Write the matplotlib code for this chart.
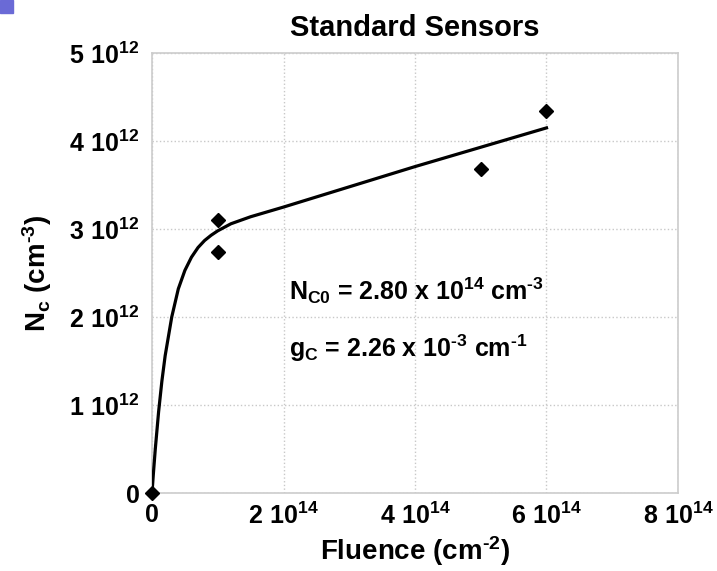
"""Standard Sensors: Nc versus fluence with fit curve"""
import matplotlib
matplotlib.use("Agg")
import matplotlib.pyplot as plt
from matplotlib.patches import Rectangle
from matplotlib.ticker import FixedLocator, FixedFormatter

plt.rcParams["font.family"] = ["Liberation Sans", "DejaVu Sans"]
plt.rcParams["font.weight"] = "bold"
plt.rcParams["mathtext.fontset"] = "custom"
plt.rcParams["mathtext.rm"] = "Liberation Sans:bold"
plt.rcParams["mathtext.it"] = "Liberation Sans:bold"
plt.rcParams["mathtext.bf"] = "Liberation Sans:bold"

# measured points (fluence in cm^-2, Nc in cm^-3)
fluence = [0, 1e14, 1e14, 5e14, 6e14]
nc = [0, 3.10e12, 2.74e12, 3.68e12, 4.34e12]

# fit curve
fit_fluence = [0, 0.02e14, 0.05e14, 0.1e14, 0.15e14, 0.2e14, 0.3e14, 0.4e14,
               0.5e14, 0.6e14, 0.7e14, 0.8e14, 0.9e14, 1.0e14, 1.2e14, 1.5e14,
               2.0e14, 3.0e14, 4.0e14, 5.0e14, 6.0e14]
fit_nc = [0, 0.21e12, 0.50e12, 0.92e12, 1.27e12, 1.56e12, 2.00e12, 2.32e12,
          2.53e12, 2.68e12, 2.79e12, 2.87e12, 2.93e12, 2.98e12, 3.06e12, 3.14e12,
          3.25e12, 3.48e12, 3.71e12, 3.93e12, 4.15e12]

x_ticks = [0, 2e14, 4e14, 6e14, 8e14]
x_labels = ["0", r"$2\ 10^{14}$", r"$4\ 10^{14}$", r"$6\ 10^{14}$", r"$8\ 10^{14}$"]
y_ticks = [0, 1e12, 2e12, 3e12, 4e12, 5e12]
y_labels = ["0", r"$1\ 10^{12}$", r"$2\ 10^{12}$", r"$3\ 10^{12}$", r"$4\ 10^{12}$", r"$5\ 10^{12}$"]

fig = plt.figure(figsize=(7.17, 5.71), dpi=100)
ax = fig.add_axes([0.212, 0.1366, 0.7336, 0.7704])

ax.plot(fit_fluence, fit_nc, "-", color="black", linewidth=2.3, zorder=3)
ax.plot(fluence, nc, "D", color="black", markersize=7, clip_on=False, zorder=4)

ax.set_xlim(0, 8e14)
ax.set_ylim(0, 5e12)
ax.xaxis.set_major_locator(FixedLocator(x_ticks))
ax.xaxis.set_major_formatter(FixedFormatter(x_labels))
ax.yaxis.set_major_locator(FixedLocator(y_ticks))
ax.yaxis.set_major_formatter(FixedFormatter(y_labels))
ax.tick_params(length=0, labelsize=18, pad=9)
ax.tick_params(axis="x", pad=7)

ax.grid(True, color="#c8c8c8", linestyle=":", linewidth=1.0)
for s in ax.spines.values():
    s.set_color("#cccccc")
    s.set_linewidth(1.2)

ax.set_title("Standard Sensors", fontsize=21, fontweight="bold", pad=12)
ax.set_xlabel(r"Fluence (cm$^{\text{-2}}$)", fontsize=20, fontweight="bold", labelpad=4)
ax.set_ylabel(r"N$_{\mathrm{c}}$ (cm$^{\text{-3}}$)", fontsize=20, fontweight="bold", labelpad=11)

ax.text(2.08e14, 2.20e12, r"N$_{\mathrm{C0}}$ = 2.80 x 10$^{14}$ cm$^{\text{-3}}$",
        fontsize=18, fontweight="bold")
ax.text(2.08e14, 1.55e12, r"g$_{\mathrm{C}}$ = 2.26 x 10$^{\text{-3}}$ cm$^{\text{-1}}$",
        fontsize=18, fontweight="bold")

# slide corner decoration
fig.patches.append(Rectangle((0, 1 - 13 / 571), 13 / 717, 13 / 571,
                             transform=fig.transFigure, color="#6a6ad6"))

fig.savefig("out.png", dpi=100)
